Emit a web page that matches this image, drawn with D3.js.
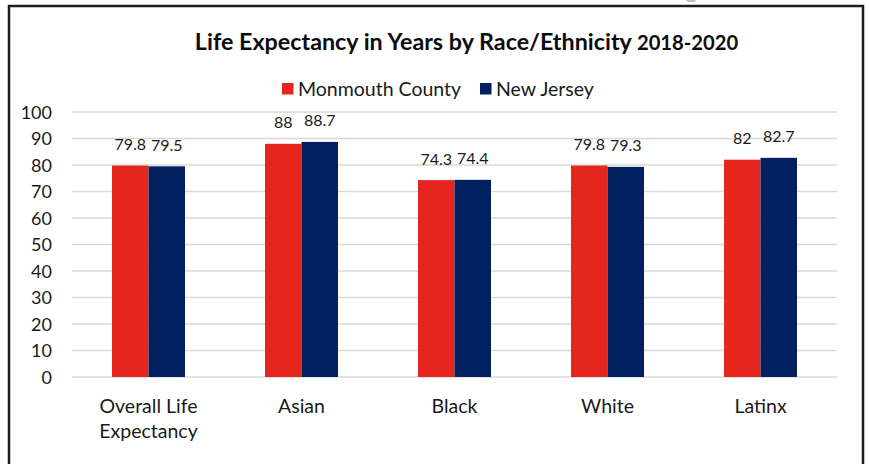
<!DOCTYPE html>
<html>
<head>
<meta charset="utf-8">
<script src="https://cdn.jsdelivr.net/npm/d3@7"></script>
<style>
  html, body { margin: 0; padding: 0; background: #fff; }
  svg { display: block; font-family: Lato, "Open Sans", sans-serif; }
</style>
</head>
<body>
<svg id="chart" width="869" height="464"></svg>
<script>
const categories = ["Overall Life\nExpectancy", "Asian", "Black", "White", "Latinx"];
const seriesNames = ["Monmouth County", "New Jersey"];
const monmouth = [79.8, 88, 74.3, 79.8, 82];
const newJersey = [79.5, 88.7, 74.4, 79.3, 82.7];
const yTicks = [0, 10, 20, 30, 40, 50, 60, 70, 80, 90, 100];
const colors = ["#E5261E", "#012060"];
const titleMain = "Life Expectancy in Years by Race/Ethnicity ";
const titleYears = "2018-2020";

const seriesValues = [monmouth, newJersey];
const rows = categories.map((c, i) => ({
  cat: c,
  vals: seriesNames.map((s, j) => ({ series: s, idx: j, value: seriesValues[j][i] }))
}));

const svg = d3.select("#chart");

// frame
svg.append("path")
  .attr("d", "M9,464 L9,6 L863,6 L863,464")
  .attr("fill", "none").attr("stroke", "#1c1c1c").attr("stroke-width", 2.5);
svg.append("ellipse").attr("cx", 691).attr("cy", 0).attr("rx", 5).attr("ry", 2)
  .attr("fill", "#b9c3d2");

const plotL = 72, plotR = 837, plotT = 112, plotB = 377;

const x0 = d3.scaleBand().domain(categories).range([plotL, plotR])
  .paddingInner(0.523).paddingOuter(0.2615);
const x1 = d3.scaleBand().domain(seriesNames).range([0, x0.bandwidth()]);
const y = d3.scaleLinear().domain([0, 100]).range([plotB, plotT]);

// gridlines
svg.append("g").selectAll("line").data(yTicks).join("line")
  .attr("x1", plotL).attr("x2", plotR)
  .attr("y1", d => y(d)).attr("y2", d => y(d))
  .attr("stroke", "#d9d9d9").attr("stroke-width", 1.5);

// y axis
const yAxis = svg.append("g").attr("transform", `translate(${plotL - 20},0)`)
  .call(d3.axisLeft(y).tickValues(yTicks).tickSize(0).tickPadding(0));
yAxis.select(".domain").remove();
yAxis.selectAll("text").attr("font-size", 18).attr("fill", "#1a1a1a")
  .attr("font-family", "Lato, sans-serif").attr("dy", "0.36em");

// bars
const groups = svg.append("g").selectAll("g").data(rows).join("g")
  .attr("transform", d => `translate(${x0(d.cat)},0)`);
groups.selectAll("rect").data(d => d.vals).join("rect")
  .attr("x", d => x1(d.series)).attr("width", x1.bandwidth())
  .attr("y", d => y(d.value)).attr("height", d => y(0) - y(d.value))
  .attr("fill", d => colors[d.idx]);

// data labels
groups.selectAll("text").data(d => d.vals).join("text")
  .attr("x", d => x1(d.series) + x1.bandwidth() / 2)
  .attr("y", d => y(d.value) - 15.5)
  .attr("text-anchor", "middle").attr("font-size", 16).attr("fill", "#1a1a1a")
  .text(d => d.value);

// category labels
const catG = svg.append("g").selectAll("text").data(categories).join("text")
  .attr("x", d => x0(d) + x0.bandwidth() / 2)
  .attr("y", 412.5)
  .attr("text-anchor", "middle").attr("font-size", 19.5).attr("fill", "#1a1a1a");
catG.each(function(d) {
  const lines = d.split("\n");
  d3.select(this).selectAll("tspan").data(lines).join("tspan")
    .attr("x", x0(d) + x0.bandwidth() / 2)
    .attr("dy", (l, i) => i === 0 ? 0 : 25.5)
    .text(l => l);
});

// title
const title = svg.append("text").attr("x", 466.5).attr("y", 50)
  .attr("text-anchor", "middle").attr("font-weight", "bold").attr("fill", "#0d0d0d");
title.append("tspan").attr("font-size", 23.3).text(titleMain);
title.append("tspan").attr("font-size", 20.2).text(titleYears);

// legend
const legendX = [282, 480];
const leg = svg.append("g").selectAll("g").data(seriesNames).join("g")
  .attr("transform", (d, i) => `translate(${legendX[i]},83)`);
leg.append("rect").attr("width", 11.5).attr("height", 11.5)
  .attr("fill", (d, i) => colors[i]);
leg.append("text").attr("x", 16).attr("y", 12.5).attr("font-size", 19.5)
  .attr("fill", "#1a1a1a").text(d => d);
</script>
</body>
</html>
